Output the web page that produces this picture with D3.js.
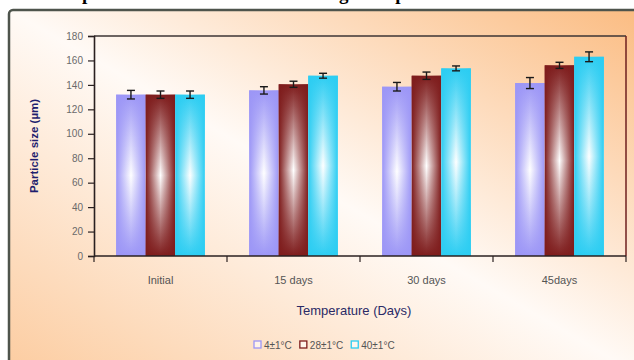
<!DOCTYPE html>
<html>
<head>
<meta charset="utf-8">
<script src="https://cdn.jsdelivr.net/npm/d3@7"></script>
<style>
  html, body { margin: 0; padding: 0; background: #ffffff; }
  svg { display: block; }
</style>
</head>
<body>
<svg id="chart" width="634" height="360"></svg>
<script>
// ---- data ----
const titleText = "Comparison of Mean Size during Temperature Studies";
const categories = ["Initial", "15 days", "30 days", "45days"];
const seriesNames = ["4±1°C", "28±1°C", "40±1°C"];
const values4 = [132, 135.5, 138.5, 141.5];
const values28 = [132, 140.5, 147.5, 156];
const values40 = [132, 147.5, 153.5, 163];
const err4 = [3.5, 3, 3.5, 4.5];
const err28 = [3, 2.5, 3, 2.5];
const err40 = [3, 2, 2, 4];
const yTicks = [0, 20, 40, 60, 80, 100, 120, 140, 160, 180];
const yTitle = "Particle size (µm)";
const xTitle = "Temperature (Days)";

const seriesValues = [values4, values28, values40];
const seriesErrors = [err4, err28, err40];
const seriesColors = ["#9c96f6", "#7e1c1c", "#2ccdf2"];

const svg = d3.select("#chart");
const defs = svg.append("defs");

// chart area gradient
const bg = defs.append("linearGradient").attr("id", "bgGrad")
  .attr("x1", 1).attr("y1", 0).attr("x2", 0).attr("y2", 1);
bg.append("stop").attr("offset", 0).attr("stop-color", "#fbbb80");
bg.append("stop").attr("offset", 0.5).attr("stop-color", "#fffaf6");
bg.append("stop").attr("offset", 1).attr("stop-color", "#fccb9e");

// bar gradients
seriesColors.forEach((c, i) => {
  const v = defs.append("linearGradient").attr("id", "vg" + i)
    .attr("x1", 0).attr("y1", 0).attr("x2", 0).attr("y2", 1);
  v.append("stop").attr("offset", 0).attr("stop-color", c);
  v.append("stop").attr("offset", 0.5).attr("stop-color", "#ffffff");
  v.append("stop").attr("offset", 1).attr("stop-color", c);
  const h = defs.append("linearGradient").attr("id", "hg" + i)
    .attr("x1", 0).attr("y1", 0).attr("x2", 1).attr("y2", 0);
  h.append("stop").attr("offset", 0).attr("stop-color", c).attr("stop-opacity", 1);
  h.append("stop").attr("offset", 0.5).attr("stop-color", c).attr("stop-opacity", 0);
  h.append("stop").attr("offset", 1).attr("stop-color", c).attr("stop-opacity", 1);
});

// title (cut off at the top edge, as in the reference)
const title = svg.append("text")
  .attr("y", 0)
  .attr("font-family", "Liberation Serif, serif")
  .attr("font-weight", "bold")
  .attr("font-size", 19)
  .attr("letter-spacing", 1.4)
  .attr("fill", "#000")
  .text(titleText);
{
  const node = title.node();
  const iP = titleText.indexOf("p");
  const px = node.getStartPositionOfChar(iP).x;
  title.attr("x", 82 - px);
}

// chart frame
svg.append("rect")
  .attr("x", 9).attr("y", 10).attr("width", 640).attr("height", 370)
  .attr("rx", 4)
  .attr("fill", "url(#bgGrad)")
  .attr("stroke", "#4e544c").attr("stroke-width", 2.5);

const plotL = 94, plotR = 626, plotT = 36, plotB = 256;

const x = d3.scaleBand().domain(categories).range([plotL, plotR]).padding(0);
const x1 = d3.scaleBand().domain(seriesNames).range([0, x.bandwidth()])
  .paddingInner(0).paddingOuter(0.75);
const y = d3.scaleLinear().domain([0, 180]).range([plotB, plotT]);

// bars
const g = svg.append("g");
seriesNames.forEach((s, si) => {
  const sg = g.append("g");
  categories.forEach((c, ci) => {
    const v = seriesValues[si][ci];
    const bx = x(c) + x1(s);
    sg.append("rect")
      .attr("x", bx).attr("y", y(v))
      .attr("width", x1.bandwidth()).attr("height", y(0) - y(v))
      .attr("fill", "url(#vg" + si + ")");
    sg.append("rect")
      .attr("x", bx).attr("y", y(v))
      .attr("width", x1.bandwidth()).attr("height", y(0) - y(v))
      .attr("fill", "url(#hg" + si + ")");
  });
});

// error bars
seriesNames.forEach((s, si) => {
  categories.forEach((c, ci) => {
    const v = seriesValues[si][ci], e = seriesErrors[si][ci];
    const cx = x(c) + x1(s) + x1.bandwidth() / 2;
    const eg = svg.append("g").attr("stroke", "#1a1a1a").attr("stroke-width", 1.4);
    eg.append("line").attr("x1", cx).attr("x2", cx).attr("y1", y(v + e)).attr("y2", y(v - e));
    eg.append("line").attr("x1", cx - 4).attr("x2", cx + 4).attr("y1", y(v + e)).attr("y2", y(v + e));
    eg.append("line").attr("x1", cx - 4).attr("x2", cx + 4).attr("y1", y(v - e)).attr("y2", y(v - e));
  });
});

// plot border
svg.append("line").attr("x1", plotL).attr("x2", plotR).attr("y1", plotT).attr("y2", plotT)
  .attr("stroke", "#3c3434").attr("stroke-width", 1.5);
svg.append("line").attr("x1", plotR).attr("x2", plotR).attr("y1", plotT).attr("y2", plotB)
  .attr("stroke", "#6e1f1f").attr("stroke-width", 1.5);

// y axis
const yAxis = svg.append("g").attr("transform", `translate(${plotL},0)`)
  .call(d3.axisLeft(y).tickValues(yTicks).tickSize(6).tickPadding(5));
yAxis.select(".domain").attr("stroke", "#2a2020").attr("stroke-width", 1.6);
yAxis.selectAll(".tick line").attr("stroke", "#2a2020").attr("stroke-width", 1.2);
yAxis.selectAll(".tick text")
  .attr("font-family", "Liberation Sans, Arial, sans-serif")
  .attr("font-size", 10).attr("fill", "#6a6a6a");

// x axis
const xAxis = svg.append("g");
xAxis.append("line").attr("x1", plotL).attr("x2", plotR).attr("y1", plotB).attr("y2", plotB)
  .attr("stroke", "#2a2020").attr("stroke-width", 1.6);
const bounds = categories.map(c => x(c)).concat([x(categories[categories.length - 1]) + x.bandwidth()]);
xAxis.selectAll("line.tick").data(bounds).enter().append("line")
  .attr("x1", d => d).attr("x2", d => d).attr("y1", plotB).attr("y2", plotB + 6)
  .attr("stroke", "#2a2020").attr("stroke-width", 1.2);
xAxis.selectAll("text.cat").data(categories).enter().append("text")
  .attr("x", d => x(d) + x.bandwidth() / 2).attr("y", 284)
  .attr("text-anchor", "middle")
  .attr("font-family", "Liberation Sans, Arial, sans-serif")
  .attr("font-size", 11).attr("fill", "#555")
  .text(d => d);

// axis titles
svg.append("text")
  .attr("transform", "translate(38,146) rotate(-90)")
  .attr("text-anchor", "middle")
  .attr("font-family", "Liberation Sans, Arial, sans-serif")
  .attr("font-size", 11.5).attr("font-weight", "bold").attr("fill", "#1e1e6e")
  .text(yTitle);
svg.append("text")
  .attr("x", 354).attr("y", 315)
  .attr("text-anchor", "middle")
  .attr("font-family", "Liberation Sans, Arial, sans-serif")
  .attr("font-size", 13).attr("fill", "#2a2a66")
  .text(xTitle);

// legend
const leg = svg.append("g");
let lx = 254;
seriesNames.forEach((s, si) => {
  leg.append("rect").attr("x", lx).attr("y", 341).attr("width", 7).attr("height", 7)
    .attr("fill", "#fff").attr("fill-opacity", 0.6)
    .attr("stroke", seriesColors[si]).attr("stroke-width", 1.3);
  const t = leg.append("text").attr("x", lx + 10).attr("y", 348.5)
    .attr("font-family", "Liberation Sans, Arial, sans-serif")
    .attr("font-size", 10).attr("fill", "#555").text(s);
  lx += 10 + t.node().getComputedTextLength() + 8;
});
</script>
</body>
</html>
